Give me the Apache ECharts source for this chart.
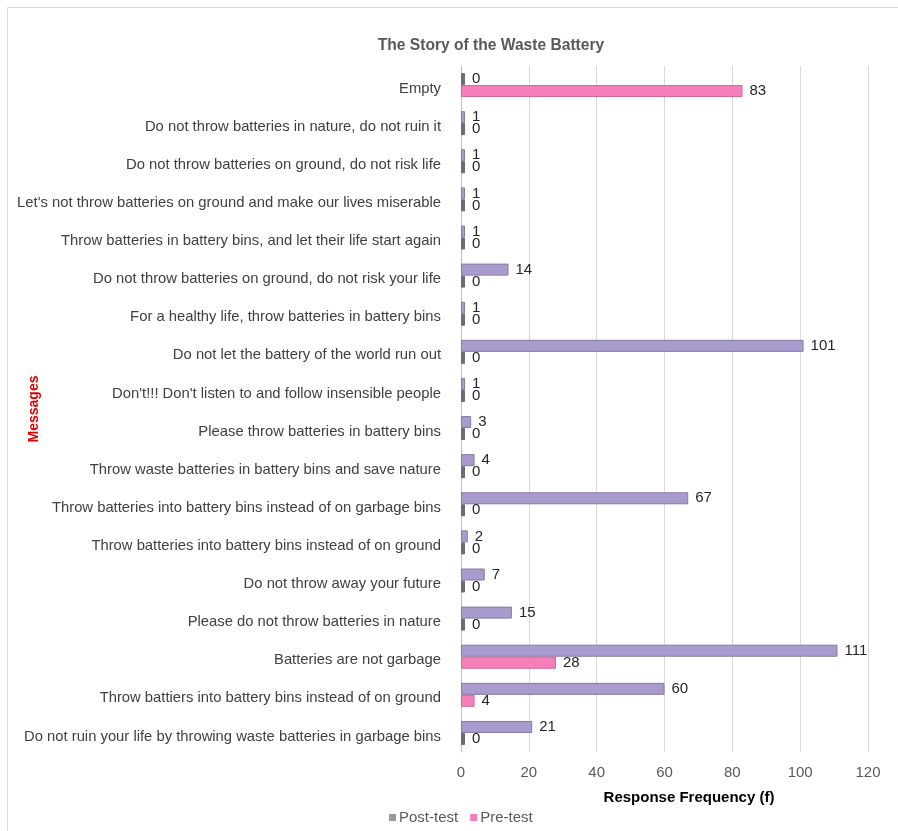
<!DOCTYPE html>
<html>
<head>
<meta charset="utf-8">
<script src="https://cdn.jsdelivr.net/npm/echarts@6/dist/echarts.min.js"></script>
<style>html,body{margin:0;padding:0;background:#fff;}#c{width:898px;height:831px;}</style>
</head>
<body>
<div id="c"></div>
<script>
const categories = [
  "Empty",
  "Do not throw batteries in nature, do not ruin it",
  "Do not throw batteries on ground, do not risk life",
  "Let's not throw batteries on ground and make our lives miserable",
  "Throw batteries in battery bins, and let their life start again",
  "Do not throw batteries on ground, do not risk your life",
  "For a healthy life, throw batteries in battery bins",
  "Do not let the battery of the world run out",
  "Don't!!! Don't listen to and follow insensible people",
  "Please throw batteries in battery bins",
  "Throw waste batteries in battery bins and save nature",
  "Throw batteries into battery bins instead of on garbage bins",
  "Throw batteries into battery bins instead of on ground",
  "Do not throw away your future",
  "Please do not throw batteries in nature",
  "Batteries are not garbage",
  "Throw battiers into battery bins instead of on ground",
  "Do not ruin your life by throwing waste batteries in garbage bins"
];
const postTest = [0, 1, 1, 1, 1, 14, 1, 101, 1, 3, 4, 67, 2, 7, 15, 111, 60, 21];
const preTest  = [83, 0, 0, 0, 0, 0, 0, 0, 0, 0, 0, 0, 0, 0, 0, 28, 4, 0];
const xTicks = [0, 20, 40, 60, 80, 100, 120];

const FONT = "Liberation Sans";
const stubColor = '#6e6a78';
function mk(arr) {
  return arr.map(v => v === 0 ? {value: v, itemStyle: {color: stubColor, borderColor: stubColor}} : {value: v});
}
const chart = echarts.init(document.getElementById('c'));
chart.setOption({
  animation: false,
  textStyle: {fontFamily: FONT},
  title: {
    text: 'The Story of the Waste Battery',
    left: 486, top: 33, textAlign: 'center',
    textStyle: {fontFamily: FONT, fontSize: 15.6, fontWeight: 'bold', color: '#595959'}
  },
  legend: {
    left: 384, top: 805, itemWidth: 7, itemHeight: 7, itemGap: 12,
    icon: 'rect',
    textStyle: {fontFamily: FONT, fontSize: 15, color: '#595959', padding: [0, 0, 0, -2]},
    data: [
      {name: 'Post-test', itemStyle: {color: '#9a9a9a', borderWidth: 0}},
      {name: 'Pre-test', itemStyle: {color: '#f57fb9', borderWidth: 0}}
    ]
  },
  graphic: [{
    type: 'rect', shape: {x: 7.5, y: 7.5, width: 900, height: 840},
    style: {fill: 'none', stroke: '#d9d9d9', lineWidth: 1}, silent: true, z: -1
  }],
  grid: {left: 461, right: 30, top: 66, bottom: 79, containLabel: false, outerBoundsMode: 'none'},
  xAxis: {
    type: 'value', min: xTicks[0], max: xTicks[xTicks.length - 1], interval: 20,
    name: 'Response Frequency (f)', nameLocation: 'middle', nameGap: 38,
    nameTextStyle: {fontFamily: FONT, fontSize: 15, fontWeight: 'bold', color: '#000', padding: [0, 0, 0, 49]},
    axisLine: {show: false}, axisTick: {show: false},
    axisLabel: {fontSize: 15, color: '#595959', margin: 13},
    splitLine: {show: true, lineStyle: {color: '#d9d9d9'}}
  },
  yAxis: {
    type: 'category', data: categories, inverse: true,
    name: 'Messages', nameLocation: 'middle', nameGap: 420, nameRotate: 90, nameMoveOverlap: false,
    nameTextStyle: {fontFamily: FONT, fontSize: 14, fontWeight: 'bold', color: '#e00000'},
    axisLine: {show: true, lineStyle: {color: '#bfbfbf'}},
    axisTick: {show: false},
    axisLabel: {
      margin: 20,
      formatter: v => '{a|' + v + '}',
      rich: {a: {fontFamily: FONT, fontSize: 14.8, color: '#404040', padding: [7, 0, 0, 0]}}
    }
  },
  series: [
    {
      name: 'Post-test', type: 'bar', data: mk(postTest), barWidth: 12, barGap: '0%', barMinHeight: 4,
      itemStyle: {color: '#a99bcd', borderColor: '#857aa6', borderWidth: 1},
      label: {show: true, position: 'right', distance: 7, fontSize: 15, color: '#262626', fontFamily: FONT}
    },
    {
      name: 'Pre-test', type: 'bar', data: mk(preTest), barWidth: 12, barGap: '0%', barMinHeight: 4,
      itemStyle: {color: '#f57fb9', borderColor: '#d0679b', borderWidth: 1},
      label: {show: true, position: 'right', distance: 7, fontSize: 15, color: '#262626', fontFamily: FONT}
    }
  ]
});
</script>
</body>
</html>
